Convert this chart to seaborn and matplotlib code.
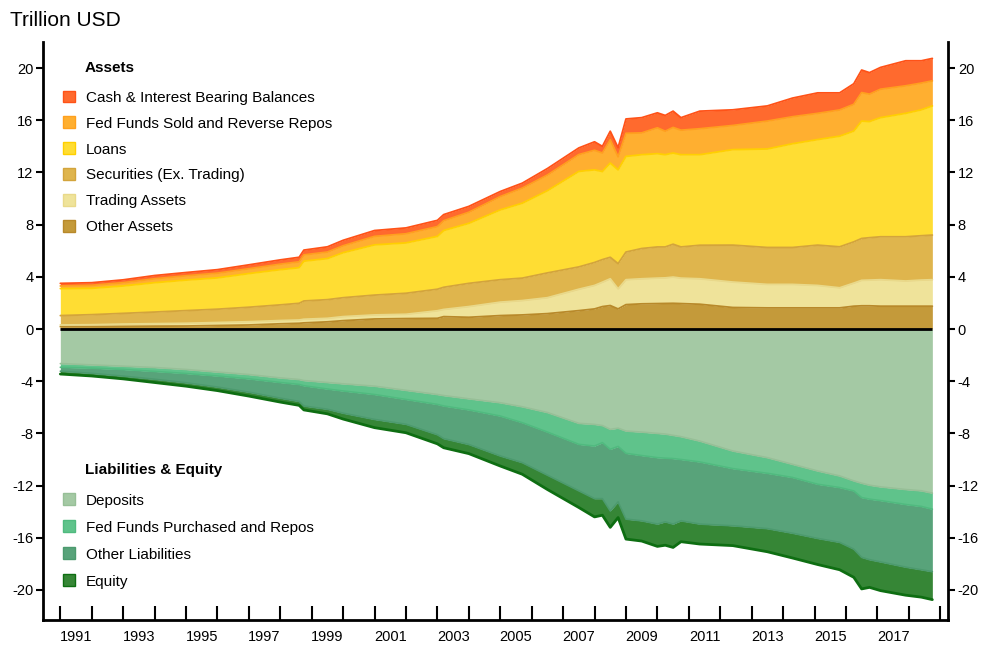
import numpy as np
import seaborn as sns
import matplotlib.pyplot as plt
from matplotlib.patches import Patch

# quarter-ish time points
years = [1991.0, 1992.0, 1993.0, 1994.0, 1995.0, 1996.0, 1997.0, 1998.0, 1998.6, 1998.75,
         1999.5, 2000.0, 2001.0, 2002.0, 2003.0, 2003.2, 2004.0, 2005.0, 2005.7, 2006.5,
         2007.5, 2008.0, 2008.25, 2008.5, 2008.75, 2009.0, 2009.5, 2010.0, 2010.25, 2010.5,
         2010.75, 2011.35, 2012.4, 2013.5, 2014.3, 2015.1, 2015.8, 2016.25, 2016.5, 2016.75,
         2017.1, 2017.9, 2018.4, 2018.75]

# assets (trillion USD)
cash = [0.20, 0.20, 0.22, 0.25, 0.25, 0.27, 0.30, 0.33, 0.35, 0.37,
        0.40, 0.42, 0.45, 0.45, 0.48, 0.47, 0.45, 0.39, 0.38, 0.50,
        0.51, 0.65, 0.51, 0.66, 0.70, 1.10, 1.17, 1.15, 1.21, 1.25,
        0.96, 1.35, 1.20, 1.16, 1.43, 1.57, 1.31, 1.58, 1.73, 1.65,
        1.67, 1.92, 1.71, 1.72]
fedfunds_sold = [0.20, 0.23, 0.25, 0.30, 0.33, 0.36, 0.37, 0.42, 0.45, 0.48,
                 0.50, 0.53, 0.65, 0.70, 0.75, 0.75, 0.85, 1.02, 1.16, 1.20,
                 1.29, 1.50, 1.42, 1.78, 1.00, 1.77, 1.67, 1.98, 1.80, 1.96,
                 1.88, 1.99, 1.85, 2.14, 2.07, 2.01, 2.01, 2.05, 2.18, 2.10,
                 2.18, 2.11, 2.05, 1.92]
loans = [2.07, 2.02, 2.10, 2.25, 2.34, 2.40, 2.58, 2.70, 2.73, 3.05,
         3.15, 3.45, 3.85, 3.86, 4.05, 4.35, 4.60, 5.35, 5.74, 6.30,
         7.32, 7.10, 6.75, 7.22, 7.19, 7.33, 7.19, 7.15, 7.07, 6.99,
         7.07, 6.94, 7.32, 7.55, 7.95, 8.09, 8.48, 8.49, 9.00, 8.90,
         9.13, 9.46, 9.65, 9.90]
securities = [0.72, 0.77, 0.82, 0.89, 0.97, 1.02, 1.11, 1.20, 1.28, 1.40,
              1.43, 1.45, 1.52, 1.61, 1.65, 1.70, 1.78, 1.72, 1.72, 1.90,
              1.71, 1.76, 1.73, 1.65, 1.93, 2.12, 2.32, 2.39, 2.37, 2.52,
              2.39, 2.57, 2.83, 2.83, 2.83, 3.09, 3.14, 3.16, 3.21, 3.25,
              3.29, 3.39, 3.40, 3.42]
trading = [0.13, 0.14, 0.18, 0.19, 0.21, 0.23, 0.25, 0.25, 0.25, 0.28,
           0.27, 0.31, 0.31, 0.33, 0.58, 0.55, 0.82, 1.03, 1.10, 1.22,
           1.64, 1.80, 1.87, 2.05, 1.54, 1.91, 1.92, 1.95, 1.96, 2.01,
           1.95, 1.95, 1.95, 1.80, 1.80, 1.72, 1.54, 1.77, 1.95, 1.97,
           2.03, 1.93, 2.00, 2.03]
other_assets = [0.18, 0.19, 0.20, 0.22, 0.23, 0.27, 0.31, 0.40, 0.44, 0.47,
                0.55, 0.64, 0.77, 0.80, 0.82, 0.95, 0.90, 1.03, 1.08, 1.18,
                1.41, 1.54, 1.72, 1.80, 1.54, 1.87, 1.93, 1.95, 1.96, 1.97,
                1.95, 1.90, 1.65, 1.62, 1.62, 1.62, 1.62, 1.75, 1.78, 1.78,
                1.75, 1.75, 1.75, 1.75]

# liabilities & equity (plotted below zero)
deposits = [-2.65, -2.75, -2.85, -2.95, -3.10, -3.30, -3.49, -3.75, -3.87, -3.95,
            -4.10, -4.20, -4.38, -4.70, -5.02, -5.10, -5.35, -5.65, -5.96, -6.40,
            -7.23, -7.31, -7.40, -7.69, -7.60, -7.82, -7.90, -8.00, -8.05, -8.15,
            -8.25, -8.59, -9.35, -9.86, -10.37, -10.88, -11.26, -11.64, -11.82, -11.97,
            -12.10, -12.30, -12.40, -12.58]
fedfunds_purch = [-0.28, -0.25, -0.25, -0.30, -0.31, -0.30, -0.33, -0.35, -0.38, -0.40,
                  -0.50, -0.55, -0.64, -0.70, -0.76, -0.80, -0.85, -1.02, -1.22, -1.50,
                  -1.61, -1.66, -1.31, -1.53, -1.40, -1.71, -1.80, -1.86, -1.85, -1.78,
                  -1.75, -1.60, -1.35, -1.20, -1.01, -1.02, -0.89, -0.77, -1.10, -1.07,
                  -1.05, -1.15, -1.20, -1.23]
other_liab = [-0.30, -0.40, -0.51, -0.60, -0.71, -0.85, -1.02, -1.20, -1.30, -1.55,
              -1.55, -1.70, -1.91, -1.90, -2.32, -2.50, -2.65, -3.06, -3.06, -3.30,
              -3.56, -4.03, -4.29, -4.72, -4.25, -5.04, -5.00, -5.09, -4.88, -5.02,
              -4.70, -4.76, -4.38, -4.24, -4.27, -4.15, -4.20, -4.46, -4.58, -4.64,
              -4.70, -4.80, -4.85, -4.79]
equity = [-0.22, -0.20, -0.21, -0.25, -0.26, -0.27, -0.30, -0.30, -0.30, -0.30,
          -0.35, -0.45, -0.63, -0.65, -0.70, -0.70, -0.70, -0.77, -0.89, -1.10,
          -1.28, -1.40, -1.27, -1.26, -1.20, -1.53, -1.55, -1.71, -1.79, -1.79,
          -1.60, -1.53, -1.52, -1.77, -1.90, -2.00, -2.10, -2.16, -2.42, -2.12,
          -2.20, -2.15, -2.10, -2.14]

asset_labels = ['Cash & Interest Bearing Balances', 'Fed Funds Sold and Reverse Repos', 'Loans',
                'Securities (Ex. Trading)', 'Trading Assets', 'Other Assets']
liab_labels = ['Deposits', 'Fed Funds Purchased and Repos', 'Other Liabilities', 'Equity']

# bottom -> top stacking order
asset_layers = [other_assets, trading, securities, loans, fedfunds_sold, cash]
asset_fill = ['#C49A3A', '#EFE39A', '#DFB54D', '#FFDD33', '#FFAF30', '#FF6A2E']
asset_edge = ['#B8892A', '#E9D98A', '#D3A43C', '#FFD000', '#FFA01E', '#FF5217']
liab_layers = [deposits, fedfunds_purch, other_liab, equity]
liab_fill = ['#A4C9A4', '#5FC38B', '#58A37A', '#368636']
liab_edge = ['#97BF97', '#50BA7F', '#4C9A6E', '#0E6E12']

sns.set_theme(style='ticks')
plt.rcParams['font.family'] = ['Liberation Sans', 'DejaVu Sans']
plt.rcParams['axes.unicode_minus'] = False
plt.rcParams['text.color'] = 'black'
plt.rcParams['xtick.labelcolor'] = 'black'
plt.rcParams['ytick.labelcolor'] = 'black'

fig = plt.figure(figsize=(9.85, 6.45), dpi=100)
ax = fig.add_axes([0.0437, 0.0388, 0.9188, 0.8961])

ax.stackplot(years, *asset_layers, colors=asset_fill, linewidth=0)
ax.stackplot(years, *liab_layers, colors=liab_fill, linewidth=0)

# boundary lines on top of each layer
for row, c in zip(np.cumsum(np.array(asset_layers), axis=0), asset_edge):
    sns.lineplot(x=years, y=row, color=c, lw=1.3, ax=ax)
for row, c, w in zip(np.cumsum(np.array(liab_layers), axis=0), liab_edge, [1.2, 1.2, 1.2, 2.0]):
    sns.lineplot(x=years, y=row, color=c, lw=w, ax=ax)

ax.hlines(0, years[0], years[-1], color='black', lw=2, zorder=5)

ax.set_xlim(1990.45, 2019.25)
ax.set_ylim(-22.3, 22.0)

# year ticks on boundaries, labels at mid-year of odd years
ax.set_xticks(range(1991, 2020))
ax.set_xticklabels([])
odd_years = list(range(1991, 2018, 2))
ax.set_xticks([y + 0.5 for y in odd_years], minor=True)
ax.set_xticklabels([str(y) for y in odd_years], minor=True, fontsize=10.5)
ax.tick_params(axis='x', which='major', direction='in', length=10, width=1.5, color='black')
ax.tick_params(axis='x', which='minor', length=0, pad=7, labelcolor='black')

ax.set_yticks(range(-20, 21, 4))
ax.tick_params(axis='y', direction='out', length=5, width=1.5, color='black', labelcolor='black',
               left=True, right=True, labelleft=True, labelright=True, labelsize=10.5, pad=2)

for side in ['left', 'right', 'bottom']:
    ax.spines[side].set_color('black')
    ax.spines[side].set_linewidth(2)
ax.spines['top'].set_visible(False)
ax.set_xlabel('')
ax.set_ylabel('')

# legends
a_handles = [Patch(facecolor=f, edgecolor=e, lw=1) for f, e in zip(asset_fill[::-1], asset_edge[::-1])]
leg1 = ax.legend(a_handles, asset_labels, loc='upper left', bbox_to_anchor=(0.022, 0.916),
                 frameon=False, fontsize=11, handlelength=0.8, handleheight=0.8,
                 handletextpad=0.7, labelspacing=0.77, borderpad=0, borderaxespad=0,
                 labelcolor='black')
ax.add_artist(leg1)
l_handles = [Patch(facecolor=f, edgecolor=e, lw=1) for f, e in zip(liab_fill, liab_edge)]
ax.legend(l_handles, liab_labels, loc='upper left', bbox_to_anchor=(0.022, 0.219),
          frameon=False, fontsize=11, handlelength=0.8, handleheight=0.8,
          handletextpad=0.7, labelspacing=0.84, borderpad=0, borderaxespad=0,
          labelcolor='black')

ax.text(0.0464, 0.955, 'Assets', transform=ax.transAxes, ha='left', va='center',
        fontsize=11, fontweight='bold', color='black')
ax.text(0.0464, 0.2595, 'Liabilities & Equity', transform=ax.transAxes, ha='left', va='center',
        fontsize=11, fontweight='bold', color='black')

fig.text(10 / 985, 1 - 20 / 645, 'Trillion USD', ha='left', va='center', fontsize=15, color='black')

fig.savefig('out.png', dpi=100)
